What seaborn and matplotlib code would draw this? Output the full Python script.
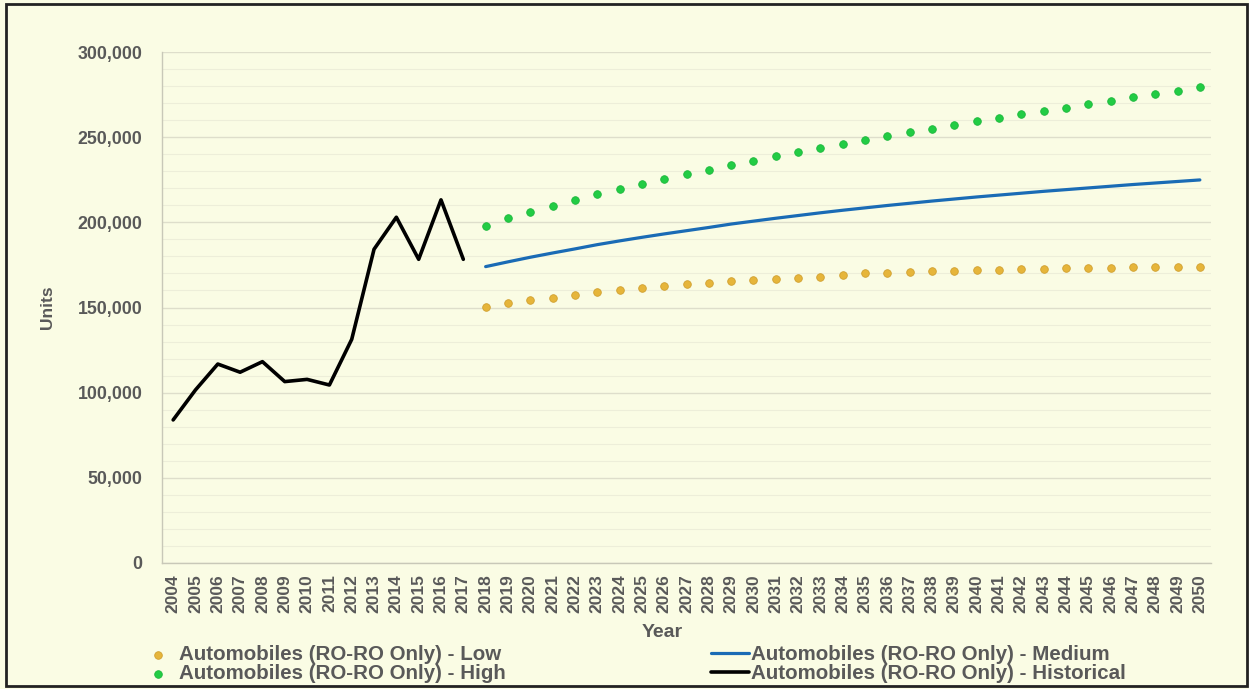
import numpy as np
import pandas as pd
import matplotlib
matplotlib.use('Agg')
import matplotlib.pyplot as plt
import seaborn as sns
from matplotlib.ticker import MultipleLocator, StrMethodFormatter
from matplotlib.patches import Rectangle

# Configuration
sns.set_theme(style='white')
plt.rcParams['font.family'] = ['Liberation Sans', 'DejaVu Sans']
plt.rcParams['font.weight'] = 'bold'

BG = '#FAFCE4'
TXT = '#595959'

# Données
hist_years = list(range(2004, 2018))
hist_units = [84000, 101600, 116800, 112000, 118200, 106500, 107800,
              104500, 131300, 184200, 203000, 178300, 213200, 178300]

fc_years = list(range(2018, 2051))
low_units = [150100, 152500, 154200, 155800, 157600, 159100, 160300, 161500,
             162700, 163800, 164600, 165600, 166200, 166800, 167400, 168100,
             168900, 170000, 170400, 170800, 171200, 171600, 171800, 172200,
             172400, 172800, 173000, 173200, 173400, 173600, 173700, 173700,
             174000]
medium_units = [174000, 176800, 179500, 182000, 184400, 186900, 189100, 191200,
                193200, 195100, 197000, 199000, 200700, 202400, 204000, 205600,
                207100, 208500, 209900, 211200, 212500, 213700, 214900, 216000,
                217100, 218200, 219200, 220200, 221200, 222200, 223100, 224000,
                224900]
high_units = [198000, 202400, 206300, 209600, 213200, 216500, 219400, 222500,
              225300, 228200, 231000, 233700, 236200, 238800, 241100, 243700,
              246000, 248400, 250400, 252900, 254800, 257000, 259300, 261300,
              263700, 265400, 267400, 269300, 271300, 273300, 275200, 277000,
              279500]

labels = {
    'low': 'Automobiles (RO-RO Only) - Low',
    'high': 'Automobiles (RO-RO Only) - High',
    'medium': 'Automobiles (RO-RO Only) - Medium',
    'hist': 'Automobiles (RO-RO Only) - Historical',
}

df_hist = pd.DataFrame({'Year': hist_years, 'Units': hist_units})
df_fc = pd.DataFrame({'Year': fc_years, 'Low': low_units,
                      'Medium': medium_units, 'High': high_units})

# Figure
fig = plt.figure(figsize=(12.49, 6.89), dpi=100, facecolor=BG)
ax = fig.add_axes([0.1297, 0.1829, 0.8399, 0.7416])
ax.set_facecolor(BG)

# grille
ax.yaxis.set_major_locator(MultipleLocator(50000))
ax.yaxis.set_minor_locator(MultipleLocator(10000))
ax.grid(which='major', axis='y', color='#DEDECB', lw=1.0, zorder=0)
ax.grid(which='minor', axis='y', color='#EDEED9', lw=0.8, zorder=0)
ax.grid(which='major', axis='x', visible=False)
ax.set_axisbelow(True)

# séries
sns.scatterplot(data=df_fc, x='Year', y='Low', ax=ax, color='#E6B53A',
                edgecolor='#D0A030', linewidth=0.6, s=30, label=labels['low'], zorder=3)
sns.scatterplot(data=df_fc, x='Year', y='High', ax=ax, color='#22CC44',
                edgecolor='#1DB83C', linewidth=0.6, s=30, label=labels['high'], zorder=3)
sns.lineplot(data=df_fc, x='Year', y='Medium', ax=ax, color='#1A6BB5',
             lw=2.3, label=labels['medium'], zorder=3)
sns.lineplot(data=df_hist, x='Year', y='Units', ax=ax, color='black',
             lw=2.6, label=labels['hist'], zorder=3)

# axes
ax.set_xlim(2003.5, 2050.5)
ax.set_ylim(0, 300000)
ax.set_xticks(list(range(2004, 2051)))
ax.set_xticklabels([str(y) for y in range(2004, 2051)], rotation=90,
                   fontsize=12.5, fontweight='bold', color=TXT)
ax.yaxis.set_major_formatter(StrMethodFormatter('{x:,.0f}'))
for t in ax.get_yticklabels():
    t.set_fontsize(12.8)
    t.set_fontweight('bold')
    t.set_color(TXT)
ax.tick_params(axis='x', which='both', length=0, pad=8)
ax.tick_params(axis='y', which='both', length=0, pad=14)

for side in ['top', 'right']:
    ax.spines[side].set_visible(False)
for side in ['left', 'bottom']:
    ax.spines[side].set_color('#C8C8B8')
    ax.spines[side].set_linewidth(1.0)

ax.set_xlabel('Year', fontsize=14, fontweight='bold', color=TXT)
ax.xaxis.set_label_coords(0.477, -0.119)
ax.set_ylabel('Units', fontsize=12.5, fontweight='bold', color=TXT)
ax.yaxis.set_label_coords(-0.102, 0.5)

# légende
ax.get_legend().remove()
h, l = ax.get_legend_handles_labels()
leg = fig.legend(h, l, ncol=2, loc='upper left', bbox_to_anchor=(0.111, 0.064),
                 frameon=False, fontsize=14.8, handlelength=1.85, handletextpad=0.1,
                 columnspacing=10.0, labelspacing=0.02, borderpad=0, borderaxespad=0)
for t in leg.get_texts():
    t.set_color(TXT)
    t.set_fontweight('bold')

# cadre extérieur
fig.patches.append(Rectangle((0.005, 0.004), 0.993, 0.99, transform=fig.transFigure,
                             fill=False, edgecolor='#222222', lw=2))

plt.savefig('out.png', dpi=100, facecolor=BG)
